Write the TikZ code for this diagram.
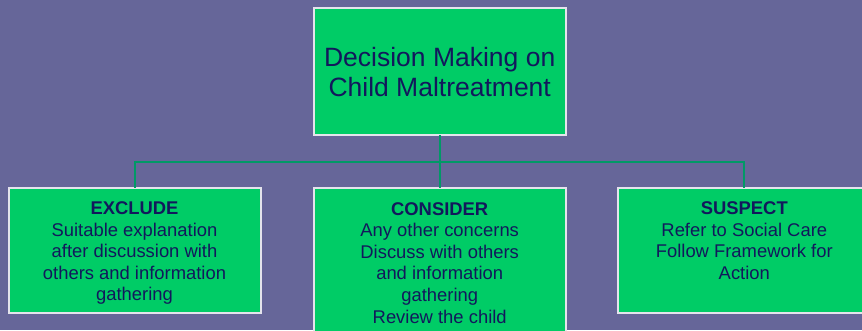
\documentclass[tikz,border=0pt]{standalone}
\usepackage{fontspec}
\setmainfont{Liberation Sans}
\definecolor{bgpurple}{RGB}{102,102,153}
\definecolor{boxgreen}{RGB}{0,204,102}
\definecolor{boxedge}{RGB}{228,228,236}
\definecolor{linkgreen}{RGB}{0,153,102}
\definecolor{inknavy}{RGB}{18,24,92}
\begin{document}
\begin{tikzpicture}[x=1pt,y=-1pt,
  card/.style={draw=boxedge,fill=boxgreen,line width=2pt,rectangle,
    minimum width=252pt,inner sep=0pt,outer sep=0pt},
  headtext/.style={text=inknavy,align=center,inner sep=0pt,
    font=\fontsize{26.5}{30}\selectfont},
  bodytext/.style={text=inknavy,align=center,inner sep=0pt,anchor=north,
    font=\fontsize{18.4}{21.6}\selectfont},
  link/.style={draw=linkgreen,line width=2pt}]
  % background and page frame
  \fill[bgpurple] (0,0) rectangle (862,330);
  \useasboundingbox (0,0) rectangle (862,330);
  \clip (0,0) rectangle (862,330);

  % boxes
  \node[card,minimum height=126.7pt] (top) at (439.7,71.7) {};
  \node[card,minimum height=125.6pt] (exclude) at (134.5,250.5) {};
  \node[card,minimum height=160pt] (consider) at (439.7,268.3) {};
  \node[card,minimum height=125.6pt] (suspect) at (744.3,250.5) {};

  % connectors
  \coordinate (bus) at (439.7,161.7);
  \draw[link] (top.south) -- (consider.north);
  \draw[link] (exclude.north) -- (exclude.north |- bus)
    -- (suspect.north |- bus) -- (suspect.north);

  % texts
  \node[headtext] (toptext) at (top.center) {Decision Making on\\Child Maltreatment};
  \node[bodytext] (excludetext) at ([yshift=-13.7pt]exclude.north)
    {\textbf{EXCLUDE}\\Suitable explanation\\after discussion with\\others and information\\gathering};
  \node[bodytext] (considertext) at ([yshift=-13.7pt]consider.north)
    {\textbf{CONSIDER}\\Any other concerns\\Discuss with others\\and information\\gathering\\Review the child};
  \node[bodytext] (suspecttext) at ([yshift=-13.7pt]suspect.north)
    {\textbf{SUSPECT}\\Refer to Social Care\\Follow Framework for\\Action};
\end{tikzpicture}
\end{document}
